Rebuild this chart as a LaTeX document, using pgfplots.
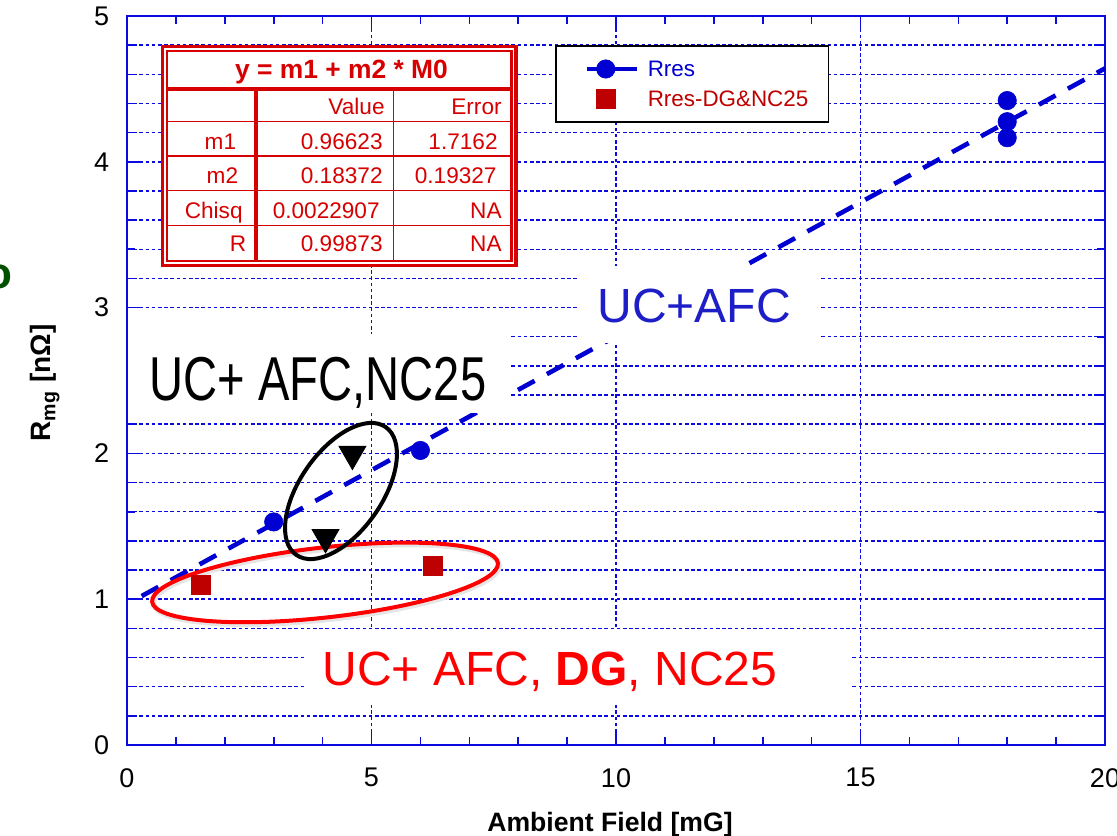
\documentclass[border=0pt]{standalone}
\usepackage{pgfplots}
\pgfplotsset{compat=1.18}
\usepackage{fontspec}
\setmainfont{Liberation Sans}
\newfontfamily\narrowsans[FakeStretch=0.76]{Liberation Sans}
\usetikzlibrary{shapes.geometric}

\definecolor{axisblue}{RGB}{10,10,225}
\definecolor{fitblue}{RGB}{0,0,210}
\definecolor{sqred}{RGB}{190,0,0}
\definecolor{tabred}{RGB}{215,0,0}
\definecolor{txtred}{RGB}{255,0,0}
\definecolor{txtblue}{RGB}{30,30,200}
\definecolor{dkgreen}{RGB}{0,80,0}

\newcommand{\tabfont}{\fontsize{11.3}{12}\selectfont}

\pgfplotsset{
  rresimg/.style={legend image code/.code={\path (0pt,0pt) (29.5pt,0pt);
    \draw[mark repeat=2, mark phase=2, ##1] plot coordinates {(4.5pt,0pt) (14pt,0pt) (29.5pt,0pt)};}},
  sqimg/.style={legend image code/.code={\path (0pt,0pt) (29.5pt,0pt);
    \draw[##1] plot coordinates {(14pt,0pt)};}},
}

\begin{document}
\begin{tikzpicture}
\begin{axis}[
  name=ax,
  scale only axis, width=489pt, height=364.5pt,
  xmin=0, xmax=20, ymin=0, ymax=5,
  xtick={0,5,10,15,20}, ytick={0,1,2,3,4,5},
  minor x tick num=4, minor y tick num=4,
  xmajorgrids, ymajorgrids, yminorgrids,
  grid style={axisblue, line width=0.75pt, dash pattern=on 1.8pt off 1.3pt},
  minor grid style={axisblue, line width=0.75pt, dash pattern=on 1.8pt off 1.3pt},
  tick align=inside,
  major tick length=7pt, minor tick length=4pt,
  every tick/.style={axisblue, line width=0.8pt},
  axis line style={axisblue, line width=1.1pt},
  /pgf/number format/assume math mode=true,
  tick label style={font=\fontsize{13.5}{14}\selectfont, text=black},
  xticklabel style={inner sep=0pt, yshift=-11.5pt},
  yticklabel style={inner sep=0pt, xshift=-8.75pt},
  xlabel={\bfseries Ambient Field [mG]},
  xlabel style={at={(axis description cs:0.5,0)}, anchor=base, yshift=-43.5pt, xshift=-3pt,
                font=\fontsize{13.3}{14}\selectfont},
  ylabel={\bfseries R\textsubscript{mg} [nΩ]},
  ylabel style={at={(axis description cs:-0.0838,0.4966)}, anchor=center,
                font=\fontsize{14}{15}\selectfont},
  clip=false,
  legend cell align=left,
  legend style={
    at={(rel axis cs:0.4376,0.9602)}, anchor=north west,
    draw=black, line width=0.8pt, fill=white,
    inner xsep=10pt, inner ysep=7pt, row sep=5.5pt,
    nodes={inner sep=0pt, text height=8pt, text depth=0pt,
           font=\fontsize{11.2}{12}\selectfont},
    /tikz/every odd column/.append style={column sep=4.5pt},
  },
]

% linear fit y = m1 + m2*x
\addplot[fitblue, line width=2.3pt, dash pattern=on 9.5pt off 7pt, forget plot]
  coordinates {(0.3,1.0214) (20,4.6406)};

% Rres measurements
\addplot[only marks, mark=*, mark size=4.6pt, color=fitblue,
         mark options={fill=fitblue, draw=fitblue, line width=0.3pt}, forget plot]
  coordinates {(3,1.53) (6,2.02) (18,4.42) (18,4.275) (18,4.165)};

% Rres with DG and NC25
\addplot[only marks, mark=square*, mark size=4.75pt, color=sqred,
         mark options={fill=sqred, draw=sqred, line width=0.3pt}, forget plot]
  coordinates {(1.5,1.10) (6.26,1.23)};

% UC + AFC, NC25
\addplot[only marks, mark=triangle*, mark size=7.8pt, black,
         mark options={rotate=180, fill=black}, forget plot]
  coordinates {(4.61,1.996) (4.06,1.425)};

% legend entries
\addlegendimage{rresimg, color=fitblue, line width=2pt, mark=*, mark size=4.6pt,
  mark options={solid, line width=0.3pt, fill=fitblue}}
\addlegendentry{\textcolor{fitblue}{Rres}}
\addlegendimage{sqimg, only marks, mark=square*, mark size=4.75pt, color=sqred,
  mark options={fill=sqred, line width=0.3pt}}
\addlegendentry{\textcolor{sqred}{Rres-DG\&NC25}}

% white label boxes
\fill[white] (axis cs:9.20,2.757) rectangle (axis cs:14.17,3.285);
\fill[white] (axis cs:0.03,2.277) rectangle (axis cs:7.83,2.819);
\fill[white] (axis cs:3.62,0.274) rectangle (axis cs:14.79,0.789);

\node[anchor=base, inner sep=0pt, text=txtblue, font=\fontsize{24}{24}\selectfont]
  at (axis cs:11.6,2.901) {UC+AFC};
\node[anchor=base, inner sep=0pt, text=black, font=\fontsize{31}{32}\narrowsans]
  at (axis cs:3.909,2.366) {UC+ AFC,NC25};
\node[anchor=base, inner sep=0pt, text=txtred, font=\fontsize{24}{24}\selectfont]
  at (axis cs:8.65,0.405) {UC+ AFC, \textbf{DG}, NC25};

% group outlines
\node[ellipse, draw=black!10, line width=2.5pt, rotate=6.4, minimum width=174pt,
      minimum height=35pt, inner sep=0pt] at (axis cs:4.08,1.100) {};
\node[ellipse, draw=txtred, line width=2pt, rotate=6.4, minimum width=174pt,
      minimum height=35pt, inner sep=0pt] at (axis cs:4.05,1.115) {};
\node[ellipse, draw=black, line width=2pt, rotate=55, minimum width=78pt,
      minimum height=41pt, inner sep=0pt] at (axis cs:4.376,1.742) {};

% fit parameter table
\fill[white] (axis cs:0.726,3.289) rectangle (axis cs:7.955,4.791);
\draw[tabred, line width=1.8pt] (axis cs:0.726,3.289) rectangle (axis cs:7.955,4.791);
\draw[tabred, line width=1.2pt] (axis cs:0.818,3.320) rectangle (axis cs:7.863,4.760);
\draw[tabred, line width=1.7pt] (axis cs:0.818,4.499) -- (axis cs:7.863,4.499);
\draw[tabred, line width=0.6pt] (axis cs:0.818,4.276) -- (axis cs:7.863,4.276)
                                (axis cs:0.818,4.040) -- (axis cs:7.863,4.040)
                                (axis cs:0.818,3.802) -- (axis cs:7.863,3.802)
                                (axis cs:0.818,3.564) -- (axis cs:7.863,3.564);
\draw[tabred, line width=2pt] (axis cs:2.644,4.499) -- (axis cs:2.644,3.320);
\draw[tabred, line width=0.6pt] (axis cs:5.452,4.499) -- (axis cs:5.452,3.320);

\node[anchor=base, inner sep=0pt, text=tabred, font=\fontsize{13.2}{14}\bfseries]
  at (axis cs:4.387,4.572) {y = m1 + m2 * M0};
\begin{scope}[every node/.style={anchor=base east, inner sep=0pt, text=tabred, font=\tabfont}]
\node at (axis cs:5.276,4.321) {Value};
\node at (axis cs:7.669,4.321) {Error};
\node at (axis cs:2.239,4.086) {m1};
\node at (axis cs:5.235,4.086) {0.96623};
\node at (axis cs:7.587,4.086) {1.7162};
\node at (axis cs:2.280,3.848) {m2};
\node at (axis cs:5.235,3.848) {0.18372};
\node at (axis cs:7.566,3.848) {0.19327};
\node at (axis cs:2.372,3.612) {Chisq};
\node at (axis cs:5.174,3.612) {0.0022907};
\node at (axis cs:7.669,3.612) {NA};
\node at (axis cs:2.444,3.383) {R};
\node at (axis cs:5.235,3.383) {0.99873};
\node at (axis cs:7.669,3.383) {NA};
\end{scope}

% edge of a neighbouring caption
\node[anchor=base, inner sep=0pt, text=dkgreen, font=\fontsize{22}{22}\bfseries]
  at (axis cs:-2.628,3.134) {o};
\end{axis}
\pgfresetboundingbox
\path[use as bounding box] ([shift={(-63.5pt,-45.5pt)}]ax.south west)
  rectangle ([shift={(6pt,8pt)}]ax.north east);
\end{tikzpicture}
\end{document}
